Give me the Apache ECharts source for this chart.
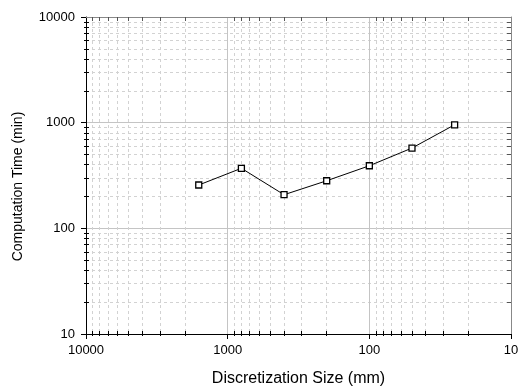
<!DOCTYPE html>
<html>
<head>
<meta charset="utf-8">
<script src="https://cdn.jsdelivr.net/npm/echarts@6/dist/echarts.min.js"></script>
<style>html,body{margin:0;padding:0;background:#fff;}#c{width:522px;height:389px;}</style>
</head>
<body>
<div id="c"></div>
<script>
// Data
var sizes = [1600, 800, 400, 200, 100, 50, 25];          // Discretization Size (mm)
var times = [257, 370, 208, 282, 391, 575, 955];        // Computation Time (min)
var xMin = 10, xMax = 10000;
var yMin = 10, yMax = 10000;
var xTitle = 'Discretization Size (mm)';
var yTitle = 'Computation Time (min)';

function minorValues(lo, hi) {
  var out = [];
  for (var d = lo; d < hi; d *= 10) {
    for (var k = 2; k <= 9; k++) out.push(d * k);
  }
  return out;
}
var xMinor = minorValues(xMin, xMax);
var yMinor = minorValues(yMin, yMax);

var FONT = 'Liberation Sans, Arial, sans-serif';
var majorGrid = { show: true, lineStyle: { color: '#c4c4c4', width: 1, type: 'solid' } };
var minorGrid = { show: true, lineStyle: { color: '#d2d2d2', width: 1, type: [3, 3] } };
function plainLabel(v) { return String(Math.round(v)); }

function baseAxis(extra, isX) {
  var a = {
    type: 'log', logBase: 10,
    min: isX ? xMin : yMin, max: isX ? xMax : yMax,
    inverse: isX ? true : false,
    axisLine: { show: false },
    axisTick: { show: false },
    axisLabel: { show: false },
    splitLine: { show: false }
  };
  for (var k in extra) a[k] = extra[k];
  return a;
}

var xAxes = [
  baseAxis({
    position: 'bottom',
    axisLine: { show: true, onZero: false, lineStyle: { color: '#000', width: 1 } },
    axisTick: { show: true, inside: false, length: 5, lineStyle: { color: '#000' } },
    axisLabel: { show: true, margin: 10, fontSize: 13, color: '#000', fontFamily: FONT, formatter: plainLabel },
    splitLine: majorGrid,
    name: xTitle, nameLocation: 'middle', nameGap: 37,
    nameTextStyle: { fontSize: 16, color: '#000', fontFamily: FONT }
  }, true),
  baseAxis({
    position: 'bottom',
    axisTick: { show: true, inside: false, length: 2, customValues: xMinor, lineStyle: { color: '#000' } },
    splitLine: minorGrid
  }, true),
  baseAxis({
    position: 'bottom',
    axisTick: { show: true, inside: true, length: 3, customValues: xMinor, lineStyle: { color: '#000' } }
  }, true),
  baseAxis({
    position: 'top',
    axisLine: { show: true, onZero: false, lineStyle: { color: '#888', width: 1 } },
    axisTick: { show: true, inside: true, length: 4, customValues: xMinor, lineStyle: { color: '#555' } }
  }, true)
];

var yAxes = [
  baseAxis({
    position: 'left',
    axisLine: { show: true, onZero: false, lineStyle: { color: '#000', width: 1 } },
    axisTick: { show: true, inside: false, length: 5, lineStyle: { color: '#000' } },
    axisLabel: { show: true, margin: 11, fontSize: 13, color: '#000', fontFamily: FONT, formatter: plainLabel },
    splitLine: majorGrid,
    name: yTitle, nameLocation: 'middle', nameGap: 61, nameRotate: 90,
    nameTextStyle: { fontSize: 14, color: '#000', fontFamily: FONT, padding: [0, 22, 0, 0] }
  }, false),
  baseAxis({
    position: 'left',
    axisTick: { show: true, inside: false, length: 2, customValues: yMinor, lineStyle: { color: '#000' } },
    splitLine: minorGrid
  }, false),
  baseAxis({
    position: 'left',
    axisTick: { show: true, inside: true, length: 3, customValues: yMinor, lineStyle: { color: '#000' } }
  }, false),
  baseAxis({
    position: 'right',
    axisLine: { show: true, onZero: false, lineStyle: { color: '#888', width: 1 } },
    axisTick: { show: true, inside: true, length: 4, customValues: yMinor, lineStyle: { color: '#555' } }
  }, false)
];

var seriesData = sizes.map(function (s, i) { return [s, times[i]]; });

var chart = echarts.init(document.getElementById('c'), null, { renderer: 'canvas' });
chart.setOption({
  animation: false,
  backgroundColor: '#fff',
  grid: { left: 86, right: 11, top: 17, bottom: 55, containLabel: false, outerBoundsMode: 'none' },
  xAxis: xAxes,
  yAxis: yAxes,
  series: [{
    type: 'line',
    xAxisIndex: 0, yAxisIndex: 0,
    data: seriesData,
    symbol: 'rect', symbolSize: 6,
    itemStyle: { color: '#fff', borderColor: '#000', borderWidth: 1.3 },
    lineStyle: { color: '#000', width: 1 },
    z: 10
  }]
});
</script>
</body>
</html>
